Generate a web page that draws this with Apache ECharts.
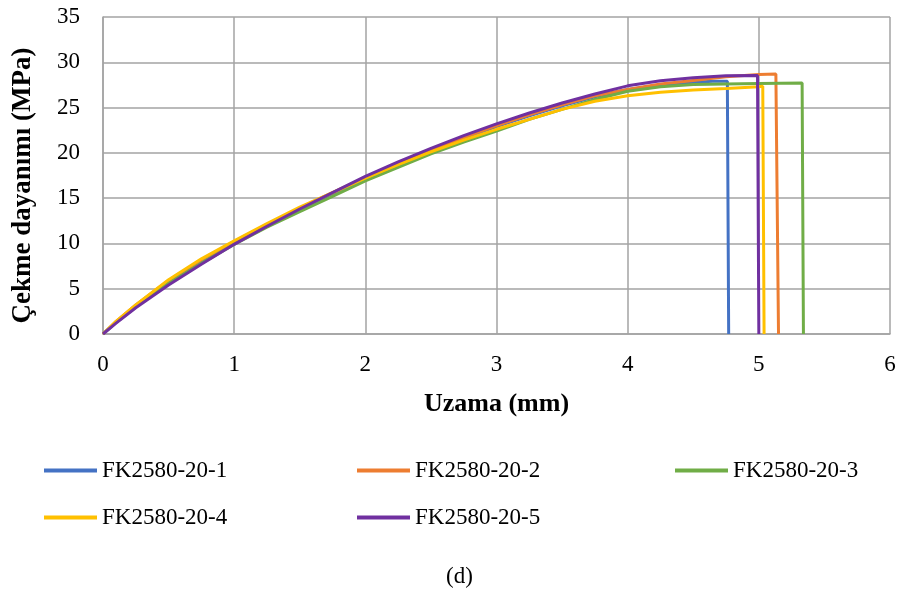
<!DOCTYPE html>
<html>
<head>
<meta charset="utf-8">
<script src="https://cdn.jsdelivr.net/npm/echarts@6/dist/echarts.min.js"></script>
<style>html,body{margin:0;padding:0;background:#fff}#c{width:901px;height:591px}</style>
</head>
<body>
<div id="c"></div>
<script>
const seriesNames = ['FK2580-20-1','FK2580-20-2','FK2580-20-3','FK2580-20-4','FK2580-20-5'];
const colors = ['#4472C4','#ED7D31','#70AD47','#FFC000','#7030A0'];

const x1 = [0,0.1,0.25,0.5,0.75,1,1.25,1.5,1.75,2,2.25,2.5,2.75,3,3.25,3.5,3.75,4,4.25,4.5,4.65,4.76,4.77];
const y1 = [0,1.3,3.0,5.6,7.9,10.0,12.0,13.8,15.5,17.2,18.7,20.2,21.6,22.9,24.1,25.2,26.2,27.0,27.5,27.8,27.9,27.9,0];

const x2 = [0,0.1,0.25,0.5,0.75,1,1.25,1.5,1.75,2,2.25,2.5,2.75,3,3.25,3.5,3.75,4,4.25,4.5,4.75,5.0,5.13,5.15];
const y2 = [0,1.4,3.2,5.9,8.2,10.2,12.1,13.9,15.6,17.3,18.8,20.3,21.7,23.0,24.2,25.3,26.3,27.0,27.6,28.0,28.4,28.65,28.7,0];

const x3 = [0,0.1,0.25,0.5,0.75,1,1.25,1.5,1.75,2,2.25,2.5,2.75,3,3.25,3.5,3.75,4,4.25,4.5,4.75,5.0,5.33,5.34];
const y3 = [0,1.3,3.0,5.6,7.8,9.9,11.8,13.5,15.2,16.9,18.4,19.9,21.2,22.4,23.7,24.8,25.9,26.8,27.3,27.55,27.6,27.65,27.7,0];

const x4 = [0,0.1,0.25,0.5,0.75,1,1.25,1.5,1.75,2,2.25,2.5,2.75,3,3.25,3.5,3.75,4,4.25,4.5,4.75,5.0,5.03,5.04];
const y4 = [0,1.4,3.2,6.0,8.3,10.3,12.2,14.0,15.6,17.2,18.7,20.1,21.4,22.6,23.7,24.8,25.7,26.3,26.7,26.95,27.1,27.3,27.35,0];

const x5 = [0,0.1,0.25,0.5,0.75,1,1.25,1.5,1.75,2,2.25,2.5,2.75,3,3.25,3.5,3.75,4,4.25,4.5,4.75,4.99,5.0];
const y5 = [0,1.2,2.9,5.4,7.7,9.9,11.9,13.8,15.6,17.4,19.0,20.5,21.9,23.2,24.4,25.5,26.5,27.4,27.95,28.3,28.5,28.55,0];

const xTicks = [0,1,2,3,4,5,6];
const yTicks = [0,5,10,15,20,25,30,35];

const xsAll = [x1,x2,x3,x4,x5];
const ysAll = [y1,y2,y3,y4,y5];

const FONT = '"Liberation Serif", "Times New Roman", serif';
const gridColor = '#a3a3a3';

const series = seriesNames.map((n,i)=>({
  name:n, type:'line', showSymbol:false, symbol:'none', smooth:false,
  lineStyle:{color:colors[i], width:3}, itemStyle:{color:colors[i]},
  data: xsAll[i].map((x,j)=>[x, ysAll[i][j]]), z: 2+i, animation:false
}));

const legendPos = [[44,459],[357,459],[675,459],[44,506],[357,506]];
const legends = seriesNames.map((n,i)=>({
  data:[{name:n, icon:'rect'}], left:legendPos[i][0], top:legendPos[i][1],
  itemWidth:53, itemHeight:4, itemGap:0, padding:0,
  textStyle:{fontFamily:FONT, fontSize:23, color:'#000', padding:[0,0,0,0]},
  selectedMode:false
}));

const chart = echarts.init(document.getElementById('c'), null, {renderer:'canvas'});
chart.setOption({
  animation:false,
  backgroundColor:'#fff',
  grid:{left:103, right:11, top:17, bottom:257, containLabel:false},
  xAxis:{type:'value', min:0, max:6, interval:1,
    name:'Uzama (mm)', nameLocation:'middle', nameGap:57,
    nameTextStyle:{fontFamily:FONT, fontSize:26, fontWeight:'bold', color:'#000'},
    axisLine:{show:true, lineStyle:{color:gridColor, width:1.5}},
    axisTick:{show:false},
    axisLabel:{fontFamily:FONT, fontSize:23, color:'#000', margin:19,
      formatter:v=> xTicks.includes(v)? String(v):''},
    splitLine:{show:true, lineStyle:{color:gridColor, width:1.5}}
  },
  yAxis:{type:'value', min:0, max:35, interval:5,
    name:'Çekme dayanımı (MPa)', nameLocation:'middle', nameGap:66,
    nameTextStyle:{fontFamily:FONT, fontSize:27, fontWeight:'bold', color:'#000', padding:[0,20,0,0]},
    axisLine:{show:true, lineStyle:{color:gridColor, width:1.5}},
    axisTick:{show:false},
    axisLabel:{fontFamily:FONT, fontSize:23, color:'#000', margin:23,
      formatter:v=> yTicks.includes(v)? String(v):''},
    splitLine:{show:true, lineStyle:{color:gridColor, width:1.5}}
  },
  legend: legends,
  title:{text:'(d)', left:446, top:565, padding:0,
    textStyle:{fontFamily:FONT, fontSize:23, fontWeight:'normal', color:'#000'}},
  series: series
});
</script>
</body>
</html>
